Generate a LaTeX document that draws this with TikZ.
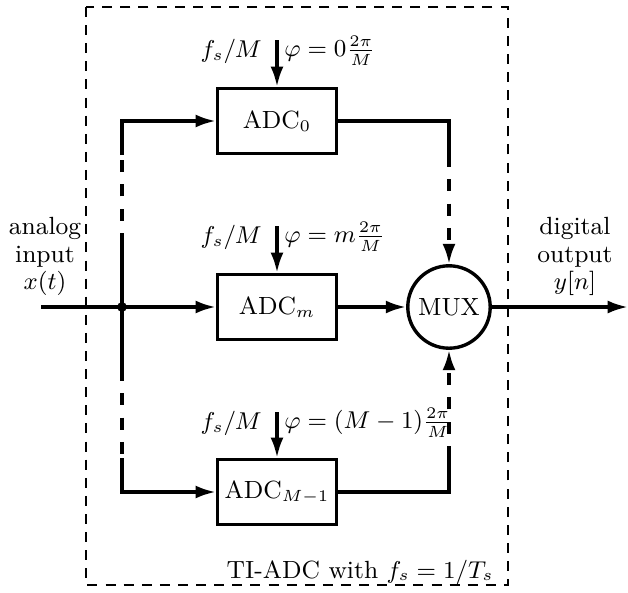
\documentclass[tikz,border=0pt]{standalone}
\usetikzlibrary{arrows.meta}
\begin{document}
\begin{tikzpicture}[x=0.37pt,y=-0.37pt,
  every node/.style={font=\fontsize{9.2}{10.2}\selectfont},
  wire/.style={line width=1.25pt},
  dwire/.style={line width=1.25pt,dash pattern=on 4.5pt off 4.5pt},
  arr/.style={-{Latex[length=7.5pt,width=4.8pt]}},
  adcbox/.style={draw,line width=1.25pt,minimum width=44pt,minimum height=24pt,inner sep=0pt},
  muxnode/.style={draw,circle,line width=1.25pt,minimum size=30.5pt,inner sep=0pt},
  lbl/.style={inner sep=1pt}]
\useasboundingbox (0,0) rectangle (628,592);
% border
\draw[line width=0.5pt,dash pattern=on 3.7pt off 3pt] (86,7) rectangle (508,585);
% nodes
\node[adcbox] (a0) at (277,121) {ADC$_0$};
\node[adcbox] (am) at (277,307) {ADC$_m$};
\node[adcbox] (al) at (277,492) {ADC$_{M-1}$};
\node[muxnode] (mux) at (449,307) {MUX};
\coordinate (j) at (122,307);
\fill (j) circle (1.8pt);
\coordinate (in) at (41,307);
\coordinate (out) at (628,307);
% left branch coordinates
\coordinate (lt) at (122,121);
\coordinate (lt1) at (122,155);
\coordinate (lt2) at (122,245);
\coordinate (lb) at (122,492);
\coordinate (lb1) at (122,458);
\coordinate (lb2) at (122,369);
% right coordinates
\coordinate (rt) at (449,121);
\coordinate (rt1) at (449,155);
\coordinate (rb) at (449,492);
\coordinate (rb1) at (449,458);
% clock arrow starts
\coordinate (c0) at (277,40);
\coordinate (cm) at (277,226);
\coordinate (cl) at (277,412);
% wires
\draw[wire] (in) -- (j);
\draw[wire,arr] (j) -- (am.west);
\draw[wire] (j) -- (lt2);
\draw[dwire] (lt2) -- (lt1);
\draw[wire,arr] (lt1) -- (lt) -- (a0.west);
\draw[wire] (j) -- (lb2);
\draw[dwire] (lb2) -- (lb1);
\draw[wire,arr] (lb1) -- (lb) -- (al.west);
\draw[wire] (a0.east) -- (rt) -- (rt1);
\draw[dwire,arr] (rt1) -- (mux.north);
\draw[wire] (al.east) -- (rb) -- (rb1);
\draw[dwire,arr] (rb1) -- (mux.south);
\draw[wire,arr] (am.east) -- (mux.west);
\draw[wire,arr] (mux.east) -- (out);
\draw[wire,arr] (c0) -- (a0.north);
\draw[wire,arr] (cm) -- (am.north);
\draw[wire,arr] (cl) -- (al.north);
% labels
\node[lbl,anchor=north east] (f0) at ([xshift=-4.5pt,yshift=1.5pt]c0) {$f_s/M$};
\node[lbl,anchor=north west] (p0) at ([xshift=1.5pt,yshift=2.5pt]c0) {$\varphi=0\frac{2\pi}{M}$};
\node[lbl,anchor=north east] (fm) at ([xshift=-4.5pt,yshift=1.5pt]cm) {$f_s/M$};
\node[lbl,anchor=north west] (pm) at ([xshift=1.5pt,yshift=2.5pt]cm) {$\varphi=m\frac{2\pi}{M}$};
\node[lbl,anchor=north east] (fl) at ([xshift=-4.5pt,yshift=1.5pt]cl) {$f_s/M$};
\node[lbl,anchor=north west] (pl) at ([xshift=1.5pt,yshift=2.5pt]cl) {$\varphi=(M-1)\frac{2\pi}{M}$};
\node[align=center,anchor=south,inner sep=1pt] (ain) at (45,299) {analog\\input\\$x(t)$};
\node[align=center,anchor=south,inner sep=1pt] (dout) at (575,299) {digital\\output\\$y[n]$};
\node[anchor=base east,inner sep=0pt] (ti) at (494,578) {TI-ADC with $f_s=1/T_s$};
\end{tikzpicture}
\end{document}
